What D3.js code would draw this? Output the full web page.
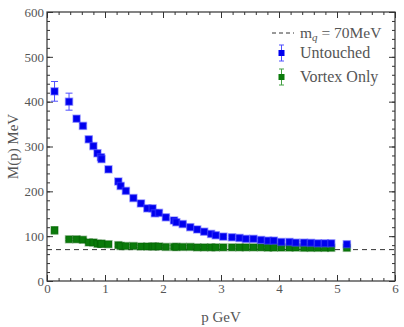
<!DOCTYPE html>
<html>
<head>
<meta charset="utf-8">
<script src="https://cdn.jsdelivr.net/npm/d3@7"></script>
<style>
  body { margin: 0; background: #fff; }
</style>
</head>
<body>
<div id="main"></div>
<script>
var width = 404;
var height = 327;
var margin = {t: 12, r: 9, b: 46, l: 47};
var serif = '"Liberation Serif", "Times New Roman", serif';

// data
var untouchedP = [0.13, 0.38, 0.51, 0.62, 0.72, 0.80, 0.87, 0.93, 0.94, 1.06,
    1.23, 1.27, 1.36, 1.49, 1.62, 1.73, 1.82, 1.86, 1.93, 2.05,
    2.19, 2.23, 2.34, 2.47, 2.59, 2.71, 2.83, 2.91, 3.04, 3.19,
    3.32, 3.43, 3.56, 3.69, 3.81, 3.91, 4.04, 4.18, 4.29, 4.43,
    4.55, 4.67, 4.79, 4.90, 5.17];
var untouchedM = [423, 400, 362, 346, 316, 301, 285, 276, 272, 249,
    222, 212, 201, 185, 173, 162, 162, 151, 152, 142,
    135, 131, 127, 120, 115, 110, 105, 102, 99, 97.5,
    96, 94, 94, 91.5, 90, 90, 87, 87, 85.5, 85.5,
    85, 84, 84, 84, 82];
var untouchedErr = [22, 19, 5, 5, 5, 5, 6, 6, 6, 5,
    5, 5, 5, 5, 5, 5, 5, 5, 5, 4,
    4, 4, 4, 3, 3, 3, 3, 3, 3, 3,
    3, 3, 3, 3, 3, 3, 3, 3, 3, 3,
    3, 3, 3, 3, 3];

var vortexP = untouchedP;
var vortexM = [113, 93, 93, 92, 86, 86, 83, 83, 83, 82,
    80, 78, 78, 78, 77, 77, 77, 77, 77, 76,
    76, 76, 76, 76, 75, 75, 75, 75, 75, 75,
    75, 75, 75, 75, 74.5, 74.5, 74.5, 74.5, 74.5, 74,
    74, 74, 74, 74, 74];
var vortexErr = [8, 3, 3, 3, 3, 3, 3, 3, 3, 3,
    3, 3, 3, 3, 3, 3, 3, 3, 3, 3,
    3, 3, 3, 3, 3, 3, 3, 3, 3, 3,
    3, 3, 3, 3, 3, 3, 3, 3, 3, 3,
    3, 3, 3, 3, 3];

var quarkMass = 70;
var xTicks = [0, 1, 2, 3, 4, 5, 6];
var yTicks = [0, 100, 200, 300, 400, 500, 600];

var innerW = width - margin.l - margin.r;
var innerH = height - margin.t - margin.b;

var svg = d3.select('#main').append('svg')
    .attr('width', width)
    .attr('height', height);

var chart = svg.append('g')
    .attr('transform', `translate(${margin.l}, ${margin.t})`);

var xScale = d3.scaleLinear().domain([0, 6]).range([0, innerW]);
var yScale = d3.scaleLinear().domain([0, 600]).range([innerH, 0]);

var frameColor = '#333';
var blue = '#0000ee';
var blueErr = '#5050ff';
var green = '#0a7a0a';
var greenErr = '#44a044';

var xMinor = d3.range(0, 6.001, 0.2);
var yMinor = d3.range(0, 601, 20);

// ticks point inward on all four sides
var sides = [
    {fn: d3.axisBottom, scale: xScale, maj: xTicks, min: xMinor, tr: `translate(0, ${innerH})`, lab: true},
    {fn: d3.axisTop, scale: xScale, maj: xTicks, min: xMinor, tr: 'translate(0, 0)', lab: false},
    {fn: d3.axisLeft, scale: yScale, maj: yTicks, min: yMinor, tr: 'translate(0, 0)', lab: true},
    {fn: d3.axisRight, scale: yScale, maj: yTicks, min: yMinor, tr: `translate(${innerW}, 0)`, lab: false}
];

sides.forEach(function(s) {
    var minorAxis = s.fn(s.scale).tickValues(s.min).tickSize(-3).tickFormat('');
    var majorAxis = s.fn(s.scale).tickValues(s.maj).tickSize(-6)
        .tickPadding(3)
        .tickFormat(s.lab ? d3.format('d') : '');
    [minorAxis, majorAxis].forEach(function(ax) {
        var g = chart.append('g')
            .attr('transform', s.tr)
            .call(ax);
        g.attr('font-family', serif).attr('font-size', 13);
        g.select('.domain').remove();
        g.selectAll('line').attr('stroke', frameColor).attr('stroke-width', 1);
        g.selectAll('text').attr('fill', '#555');
    });
});

chart.append('rect')
    .attr('x', 0)
    .attr('y', 0)
    .attr('width', innerW)
    .attr('height', innerH)
    .attr('fill', 'none')
    .attr('stroke', frameColor)
    .attr('stroke-width', 1.2);

// dashed quark mass line
chart.append('line')
    .attr('x1', xScale(0))
    .attr('x2', xScale(6))
    .attr('y1', yScale(quarkMass))
    .attr('y2', yScale(quarkMass))
    .attr('stroke', '#333')
    .attr('stroke-width', 1)
    .attr('stroke-dasharray', '5,4');

function drawSeries(P, M, E, fill, errColor, halo) {
    var pts = P.map(function(p, i) { return {p: p, m: M[i], e: E[i]}; });
    var g = chart.append('g');
    var bars = g.selectAll('.err')
        .data(pts)
        .enter()
        .append('g')
        .attr('class', 'err');
    bars.append('line')
        .attr('x1', function(d) { return xScale(d.p); })
        .attr('x2', function(d) { return xScale(d.p); })
        .attr('y1', function(d) { return yScale(d.m - d.e); })
        .attr('y2', function(d) { return yScale(d.m + d.e); })
        .attr('stroke', errColor)
        .attr('stroke-width', 1);
    [-1, 1].forEach(function(sgn) {
        bars.append('line')
            .attr('x1', function(d) { return xScale(d.p) - 3.5; })
            .attr('x2', function(d) { return xScale(d.p) + 3.5; })
            .attr('y1', function(d) { return yScale(d.m + sgn * d.e); })
            .attr('y2', function(d) { return yScale(d.m + sgn * d.e); })
            .attr('stroke', errColor)
            .attr('stroke-width', 1);
    });
    g.selectAll('.dot')
        .data(pts)
        .enter()
        .append('rect')
        .attr('class', 'dot')
        .attr('x', function(d) { return xScale(d.p) - 3.5; })
        .attr('y', function(d) { return yScale(d.m) - 3.5; })
        .attr('width', 7)
        .attr('height', 7)
        .attr('fill', fill)
        .attr('stroke', halo)
        .attr('stroke-width', 1.5);
}

drawSeries(vortexP, vortexM, vortexErr, green, greenErr, 'rgba(0,90,0,0.35)');
drawSeries(untouchedP, untouchedM, untouchedErr, blue, blueErr, 'rgba(70,70,255,0.45)');

// legend (positions relative to plot origin)
var legend = chart.append('g')
    .attr('font-family', serif)
    .attr('fill', '#555');

legend.append('line')
    .attr('x1', 225).attr('x2', 247)
    .attr('y1', 21).attr('y2', 21)
    .attr('stroke', '#333')
    .attr('stroke-dasharray', '4,3');

var legText = legend.append('text')
    .attr('x', 253).attr('y', 26)
    .attr('font-size', 15.5);
legText.append('tspan').text('m');
legText.append('tspan').text('q').attr('font-style', 'italic').attr('font-size', 11).attr('dy', 3);
legText.append('tspan').text(' = 70MeV').attr('dy', -3);

var legItems = [
    {label: 'Untouched', fill: blue, err: blueErr, y: 41},
    {label: 'Vortex Only', fill: green, err: greenErr, y: 65}
];
legItems.forEach(function(it) {
    legend.append('line')
        .attr('x1', 234.5).attr('x2', 234.5)
        .attr('y1', it.y - 8).attr('y2', it.y + 8)
        .attr('stroke', it.err);
    [it.y - 8, it.y + 8].forEach(function(yy) {
        legend.append('line')
            .attr('x1', 232).attr('x2', 237)
            .attr('y1', yy).attr('y2', yy)
            .attr('stroke', it.err);
    });
    legend.append('rect')
        .attr('x', 231.5).attr('y', it.y - 3)
        .attr('width', 6).attr('height', 6)
        .attr('fill', it.fill);
    legend.append('text')
        .attr('x', 253).attr('y', it.y + 5)
        .attr('font-size', 16)
        .text(it.label);
});

// axis labels
svg.append('text')
    .attr('x', margin.l + innerW / 2)
    .attr('y', 322)
    .attr('text-anchor', 'middle')
    .attr('font-family', serif)
    .attr('font-size', 15)
    .attr('fill', '#555')
    .text('p GeV');

svg.append('text')
    .attr('transform', `translate(18, ${margin.t + innerH / 2}) rotate(-90)`)
    .attr('text-anchor', 'middle')
    .attr('font-family', serif)
    .attr('font-size', 15)
    .attr('fill', '#555')
    .text('M(p) MeV');
</script>
</body>
</html>
